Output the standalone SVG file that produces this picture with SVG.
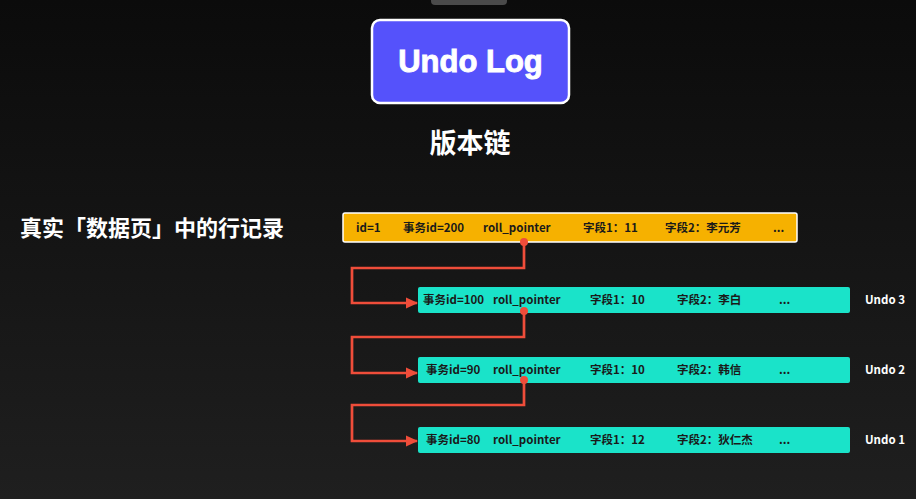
<svg xmlns="http://www.w3.org/2000/svg" width="916" height="499" viewBox="0 0 916 499">
<defs>
<linearGradient id="bg" x1="0" y1="0" x2="0" y2="1">
<stop offset="0" stop-color="#0b0b0b"/>
<stop offset="1" stop-color="#1f1f1f"/>
</linearGradient>
<marker id="ah" markerWidth="12" markerHeight="12" refX="11" refY="6" orient="auto" markerUnits="userSpaceOnUse">
<path d="M0,0.5 L12,6 L0,11.5 Z" fill="#ef4d3a"/>
</marker>
<style>
.t{font-family:"Noto Sans CJK SC","Liberation Sans",sans-serif;font-weight:bold;}
.r{font-size:11.5px;fill:#1a1a1a;}
.u{font-size:11.5px;fill:#ffffff;}
.row{fill:#1ae3c9;}
.conn{fill:none;stroke:#ef4d3a;stroke-width:2.7;}
.dot{fill:#ef4d3a;}
</style>
</defs>
<rect width="916" height="499" fill="url(#bg)"/>
<rect x="431" y="-6" width="76" height="11" rx="4" fill="#4a4a4a"/>
<g id="title">
<rect x="372" y="20" width="197" height="83" rx="8" fill="#5552fb" stroke="#ffffff" stroke-width="2.5"/>
<text x="470.5" y="72" text-anchor="middle" font-family="Liberation Sans, sans-serif" font-weight="bold" font-size="31" fill="#ffffff" stroke="#ffffff" stroke-width="0.9">Undo Log</text>
</g>
<g id="subtitle">
<text class="t" x="470" y="153" text-anchor="middle" font-size="27" fill="#ffffff">版本链</text>
</g>
<g id="label">
<text class="t" x="20" y="236" font-size="22" fill="#ffffff">真实「数据页」中的行记录</text>
</g>
<g id="record">
<rect x="343" y="213" width="454" height="29" rx="2" fill="#f6b100" stroke="#ffffff" stroke-width="1.5"/>
<text class="t r" y="232"><tspan x="356">id=1</tspan><tspan x="403">事务id=200</tspan><tspan x="483">roll_pointer</tspan><tspan x="583">字段1：11</tspan><tspan x="665">字段2：李元芳</tspan><tspan x="773">...</tspan></text>
</g>
<g id="undo3">
<rect class="row" x="418" y="287" width="432" height="26" rx="2"/>
<text class="t r" y="304"><tspan x="423">事务id=100</tspan><tspan x="493">roll_pointer</tspan><tspan x="590">字段1：10</tspan><tspan x="677">字段2：李白</tspan><tspan x="779">...</tspan></text>
<text class="t u" x="865" y="304">Undo 3</text>
</g>
<g id="undo2">
<rect class="row" x="418" y="357" width="432" height="26" rx="2"/>
<text class="t r" y="374"><tspan x="426">事务id=90</tspan><tspan x="493">roll_pointer</tspan><tspan x="590">字段1：10</tspan><tspan x="677">字段2：韩信</tspan><tspan x="779">...</tspan></text>
<text class="t u" x="865" y="374">Undo 2</text>
</g>
<g id="undo1">
<rect class="row" x="418" y="427" width="432" height="26" rx="2"/>
<text class="t r" y="444"><tspan x="426">事务id=80</tspan><tspan x="493">roll_pointer</tspan><tspan x="590">字段1：12</tspan><tspan x="677">字段2：狄仁杰</tspan><tspan x="779">...</tspan></text>
<text class="t u" x="865" y="444">Undo 1</text>
</g>
<g id="connectors">
<path class="conn" d="M524,242 V268 H352 V303 H417" marker-end="url(#ah)"/>
<path class="conn" d="M524,311 V337 H352 V373 H417" marker-end="url(#ah)"/>
<path class="conn" d="M524,380 V405 H352 V441 H417" marker-end="url(#ah)"/>
<circle class="dot" cx="524" cy="242" r="4"/>
<circle class="dot" cx="524" cy="311" r="4"/>
<circle class="dot" cx="524" cy="380" r="4"/>
</g>
</svg>
